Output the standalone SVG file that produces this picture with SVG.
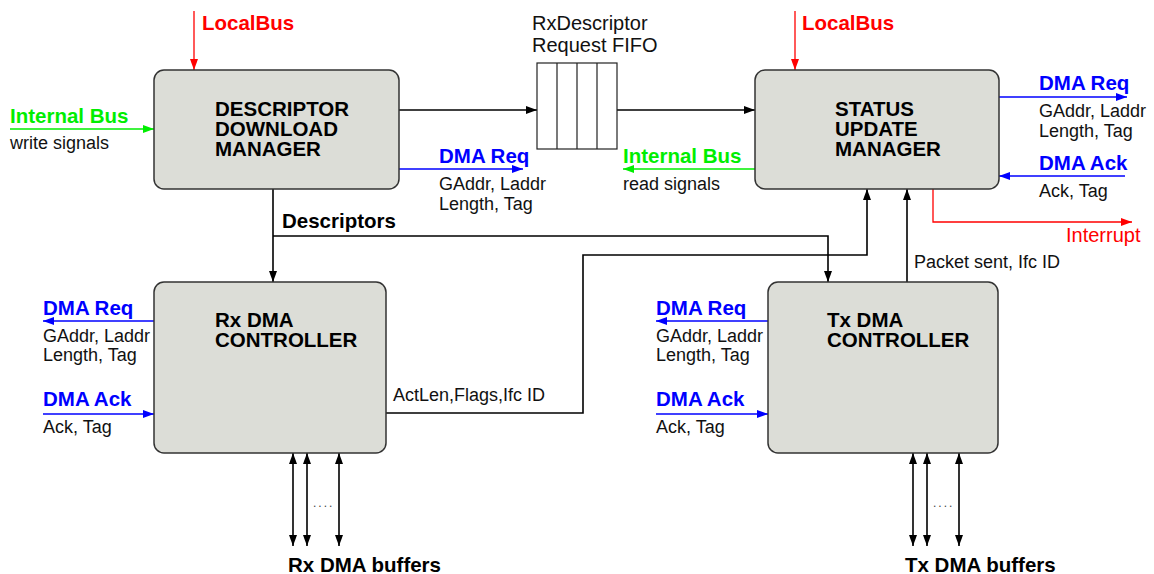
<svg xmlns="http://www.w3.org/2000/svg" width="1154" height="574" viewBox="0 0 1154 574">
<style>
text{font-family:"Liberation Sans",Arial,sans-serif}
.box{fill:#dcddd7;stroke:#333;stroke-width:1.5}
.t{font-size:18px;fill:#111}
.b{font-size:20.5px;font-weight:bold;fill:#000}
.bl{font-size:20.5px;font-weight:bold;fill:#0000ff}
.gr{font-size:20.5px;font-weight:bold;fill:#00ee00}
.rd{font-size:20.5px;font-weight:bold;fill:#ff0000}
.k{fill:none;stroke:#000;stroke-width:1.6}
.cb{fill:none;stroke:#0000ff;stroke-width:1.3}
.cg{fill:none;stroke:#00ee00;stroke-width:1.3}
.cr{fill:none;stroke:#ff0000;stroke-width:1.3}
.dots{font-size:12px;fill:#444;letter-spacing:2px}
</style>
<defs>
<marker id="ak" markerUnits="userSpaceOnUse" markerWidth="12" markerHeight="10" refX="11" refY="4" orient="auto-start-reverse"><path d="M0,0 L11,4 L0,8 Z" fill="#000"/></marker>
<marker id="ab" markerUnits="userSpaceOnUse" markerWidth="12" markerHeight="10" refX="11" refY="4" orient="auto"><path d="M0,0 L11,4 L0,8 Z" fill="#0000ff"/></marker>
<marker id="ag" markerUnits="userSpaceOnUse" markerWidth="12" markerHeight="10" refX="11" refY="4" orient="auto"><path d="M0,0 L11,4 L0,8 Z" fill="#00ee00"/></marker>
<marker id="ar" markerUnits="userSpaceOnUse" markerWidth="12" markerHeight="10" refX="11" refY="4" orient="auto"><path d="M0,0 L11,4 L0,8 Z" fill="#ff0000"/></marker>
</defs>
<rect width="1154" height="574" fill="#fff"/>

<g id="connectors">
<line class="cr" x1="194" y1="11" x2="194" y2="70" marker-end="url(#ar)"/>
<line class="cr" x1="795" y1="11" x2="795" y2="70" marker-end="url(#ar)"/>
<line class="cg" x1="10" y1="129" x2="154" y2="129" marker-end="url(#ag)"/>
<line class="k" x1="399" y1="110" x2="537" y2="110" marker-end="url(#ak)"/>
<line class="k" x1="617" y1="110" x2="755" y2="110" marker-end="url(#ak)"/>
<line class="cb" x1="399" y1="169" x2="523" y2="169" marker-end="url(#ab)"/>
<line class="cg" x1="755" y1="169" x2="623" y2="169" marker-end="url(#ag)"/>
<line class="cb" x1="999" y1="97" x2="1127" y2="97" marker-end="url(#ab)"/>
<line class="cb" x1="1125" y1="176" x2="999" y2="176" marker-end="url(#ab)"/>
<polyline class="cr" points="933,189 933,222 1132,222" marker-end="url(#ar)"/>
<line class="k" x1="273" y1="189" x2="273" y2="282" marker-end="url(#ak)"/>
<polyline class="k" points="273,236 828,236 828,282" marker-end="url(#ak)"/>
<polyline class="k" points="386,413 583,413 583,255 867,255 867,189" marker-end="url(#ak)"/>
<line class="k" x1="907" y1="282" x2="907" y2="189" marker-end="url(#ak)"/>
<line class="cb" x1="154" y1="321" x2="43" y2="321" marker-end="url(#ab)"/>
<line class="cb" x1="43" y1="414" x2="154" y2="414" marker-end="url(#ab)"/>
<line class="cb" x1="768" y1="321" x2="656" y2="321" marker-end="url(#ab)"/>
<line class="cb" x1="656" y1="414" x2="768" y2="414" marker-end="url(#ab)"/>
<line class="k" x1="293" y1="453" x2="293" y2="546" marker-start="url(#ak)" marker-end="url(#ak)"/>
<line class="k" x1="307" y1="453" x2="307" y2="546" marker-start="url(#ak)" marker-end="url(#ak)"/>
<line class="k" x1="339" y1="453" x2="339" y2="546" marker-start="url(#ak)" marker-end="url(#ak)"/>
<line class="k" x1="913" y1="453" x2="913" y2="546" marker-start="url(#ak)" marker-end="url(#ak)"/>
<line class="k" x1="927" y1="453" x2="927" y2="546" marker-start="url(#ak)" marker-end="url(#ak)"/>
<line class="k" x1="959" y1="453" x2="959" y2="546" marker-start="url(#ak)" marker-end="url(#ak)"/>
</g>

<g id="labels">
<text class="rd" x="202" y="30">LocalBus</text>
<text class="rd" x="802" y="30">LocalBus</text>
<text class="gr" x="10" y="123">Internal Bus</text>
<text class="t" x="10" y="149">write signals</text>
<text class="bl" x="439" y="163">DMA Req</text>
<text class="t" x="439" y="190">GAddr, Laddr<tspan x="439" dy="20">Length, Tag</tspan></text>
<text class="gr" x="623" y="163">Internal Bus</text>
<text class="t" x="623" y="190">read signals</text>
<text class="bl" x="1039" y="90">DMA Req</text>
<text class="t" x="1039" y="117">GAddr, Laddr<tspan x="1039" dy="20">Length, Tag</tspan></text>
<text class="bl" x="1039" y="170">DMA Ack</text>
<text class="t" x="1039" y="197">Ack, Tag</text>
<text x="1066" y="242" style="font-size:20px;fill:#ff0000">Interrupt</text>
<text class="b" x="282" y="228">Descriptors</text>
<text class="t" x="393" y="401">ActLen,Flags,Ifc ID</text>
<text class="t" x="914" y="268">Packet sent, Ifc ID</text>
<text class="bl" x="43" y="315">DMA Req</text>
<text class="t" x="43" y="342">GAddr, Laddr<tspan x="43" dy="19">Length, Tag</tspan></text>
<text class="bl" x="43" y="406">DMA Ack</text>
<text class="t" x="43" y="433">Ack, Tag</text>
<text class="bl" x="656" y="315">DMA Req</text>
<text class="t" x="656" y="342">GAddr, Laddr<tspan x="656" dy="19">Length, Tag</tspan></text>
<text class="bl" x="656" y="406">DMA Ack</text>
<text class="t" x="656" y="433">Ack, Tag</text>
<text class="dots" x="313" y="507">....</text>
<text class="dots" x="933" y="507">....</text>
<text class="b" x="288" y="572">Rx DMA buffers</text>
<text class="b" x="905" y="572">Tx DMA buffers</text>
</g>

<g id="ddm">
<rect class="box" x="154" y="70" width="245" height="119" rx="10"/>
<text class="b" x="215" y="116">DESCRIPTOR<tspan x="215" dy="20">DOWNLOAD</tspan><tspan x="215" dy="20">MANAGER</tspan></text>
</g>

<g id="fifo">
<rect x="537" y="63" width="80" height="86" fill="#fff" stroke="#222" stroke-width="1.2"/>
<path d="M557,63V149M577,63V149M597,63V149" stroke="#222" stroke-width="1.2"/>
<text x="532" y="30" style="font-size:20px;fill:#111">RxDescriptor<tspan x="532" dy="22">Request FIFO</tspan></text>
</g>

<g id="sum">
<rect class="box" x="755" y="70" width="244" height="119" rx="10"/>
<text class="b" x="835" y="116">STATUS<tspan x="835" dy="20">UPDATE</tspan><tspan x="835" dy="20">MANAGER</tspan></text>
</g>

<g id="rxdma">
<rect class="box" x="154" y="282" width="232" height="171" rx="10"/>
<text class="b" x="215" y="327">Rx DMA<tspan x="215" dy="20">CONTROLLER</tspan></text>
</g>

<g id="txdma">
<rect class="box" x="768" y="282" width="230" height="171" rx="10"/>
<text class="b" x="827" y="327">Tx DMA<tspan x="827" dy="20">CONTROLLER</tspan></text>
</g>
</svg>
